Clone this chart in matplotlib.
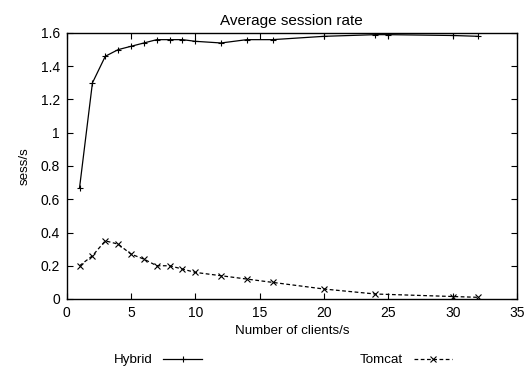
import matplotlib
matplotlib.use("Agg")
import matplotlib.pyplot as plt

plt.rcParams['font.family'] = ['Liberation Sans', 'DejaVu Sans']

clients_hybrid = [1, 2, 3, 4, 5, 6, 7, 8, 9, 10, 12, 14, 16, 20, 24, 25, 30, 32]
rate_hybrid = [0.67, 1.30, 1.46, 1.50, 1.52, 1.54, 1.56, 1.56, 1.56, 1.55,
               1.54, 1.56, 1.56, 1.58, 1.59, 1.59, 1.585, 1.58]

clients_tomcat = [1, 2, 3, 4, 5, 6, 7, 8, 9, 10, 12, 14, 16, 20, 24, 30, 32]
rate_tomcat = [0.20, 0.26, 0.35, 0.33, 0.27, 0.24, 0.20, 0.20, 0.18, 0.16,
               0.14, 0.12, 0.10, 0.06, 0.03, 0.015, 0.01]

fig = plt.figure(figsize=(5.28, 3.72), dpi=100)
ax = fig.add_axes([66.7 / 528, 1 - 299 / 372, (517 - 66.7) / 528, (299 - 33) / 372])

l1, = ax.plot(clients_hybrid, rate_hybrid, '-', color='black', lw=0.9,
              marker='+', ms=5, mew=0.8)
l2, = ax.plot(clients_tomcat, rate_tomcat, '--', color='black', lw=0.9,
              dashes=(3, 2), marker='x', ms=4, mew=0.8)

ax.set_xlim(0, 35)
ax.set_ylim(0, 1.6)
ax.set_xticks(range(0, 36, 5))
ax.set_yticks([0, 0.2, 0.4, 0.6, 0.8, 1, 1.2, 1.4, 1.6])
ax.set_yticklabels(['0', '0.2', '0.4', '0.6', '0.8', '1', '1.2', '1.4', '1.6'])
ax.tick_params(direction='in', top=True, right=True, length=4, width=0.8,
               labelsize=10, pad=5)
for s in ax.spines.values():
    s.set_linewidth(1.0)

ax.set_title('Average session rate', fontsize=11, pad=6)
ax.set_xlabel('Number of clients/s', fontsize=9.6, labelpad=4)
ax.set_ylabel('sess/s', fontsize=9.6, labelpad=7)

# legend below the plot, key after the text (gnuplot style)
fig.legend([l1], ['Hybrid'], loc='center', bbox_to_anchor=(158 / 528, 1 - 360 / 372),
           frameon=False, markerfirst=False, fontsize=9.6, handlelength=2.9)
fig.legend([l2], ['Tomcat'], loc='center', bbox_to_anchor=(406 / 528, 1 - 360 / 372),
           frameon=False, markerfirst=False, fontsize=9.6, handlelength=2.9)

fig.savefig('out.png', dpi=100)
